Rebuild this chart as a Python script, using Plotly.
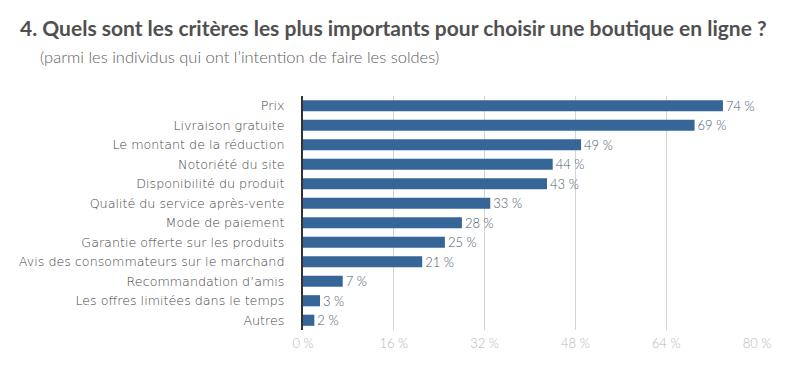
import plotly.graph_objects as go

categories = ["Prix", "Livraison gratuite", "Le montant de la réduction", "Notoriété du site",
              "Disponibilité du produit", "Qualité du service après-vente", "Mode de paiement",
              "Garantie offerte sur les produits", "Avis des consommateurs sur le marchand",
              "Recommandation d’amis", "Les offres limitées dans le temps", "Autres"]
values = [74, 69, 49, 44, 43, 33, 28, 25, 21, 7, 3, 2]
tick_vals = [0, 16, 32, 48, 64, 80]
tick_text = ["0 %", "16 %", "32 %", "48 %", "64 %", "80 %"]

font_family = "Lato, 'Open Sans', sans-serif"
label_family = "'DejaVu Sans', sans-serif"

# page body has an 8px margin; compensate so the plot lands where the reference has it
OFF = 8
W, H = 800 - OFF, 370 - OFF
L, R, T, B = 303 - OFF, 43, 96 - OFF, 40
plot_w = W - L - R
plot_h = H - T - B


def px_to_paper(sx, sy):
    return (sx - OFF - L) / plot_w, 1 - (sy - OFF - T) / plot_h


fig = go.Figure(go.Bar(
    x=values, y=categories, orientation="h",
    marker=dict(color="#366698", line=dict(width=0)),
    text=[f"{v} %" for v in values], textposition="outside",
    textfont=dict(size=13, color="#4a5870", family=font_family, weight=300),
    constraintext="none",
    cliponaxis=False,
))

tx, ty = px_to_paper(18, 28)
sx, sy = px_to_paper(38, 57)

fig.update_layout(
    width=W, height=H,
    margin=dict(l=L, r=R, t=T, b=B),
    paper_bgcolor="white", plot_bgcolor="white",
    bargap=0.43,
    showlegend=False,
    font=dict(family=font_family),
    xaxis=dict(range=[0, 80], tickvals=tick_vals, ticktext=tick_text,
               showgrid=True, gridcolor="#d4d4d4", gridwidth=1,
               zeroline=False, showline=False,
               tickfont=dict(size=13, color="#b8b8b8", weight=300), ticks="", ticklabelstandoff=4),
    yaxis=dict(autorange="reversed", showline=True, linecolor="#333333", linewidth=2,
               ticks="", tickfont=dict(size=12.7, color="#454545", family=label_family, weight=200),
               ticklabelstandoff=14, showgrid=False),
    annotations=[
        dict(text="<b>4. Quels sont les critères les plus importants pour choisir une boutique en ligne ?</b>",
             x=tx, y=ty, xref="paper", yref="paper", showarrow=False,
             xanchor="left", yanchor="middle", font=dict(size=21, color="#505050", family=font_family)),
        dict(text="(parmi les individus qui ont l’intention de faire les soldes)",
             x=sx, y=sy, xref="paper", yref="paper", showarrow=False,
             xanchor="left", yanchor="middle", font=dict(size=16.5, color="#606060", family=font_family, weight=300)),
    ],
)

fig.write_html("out.html")
